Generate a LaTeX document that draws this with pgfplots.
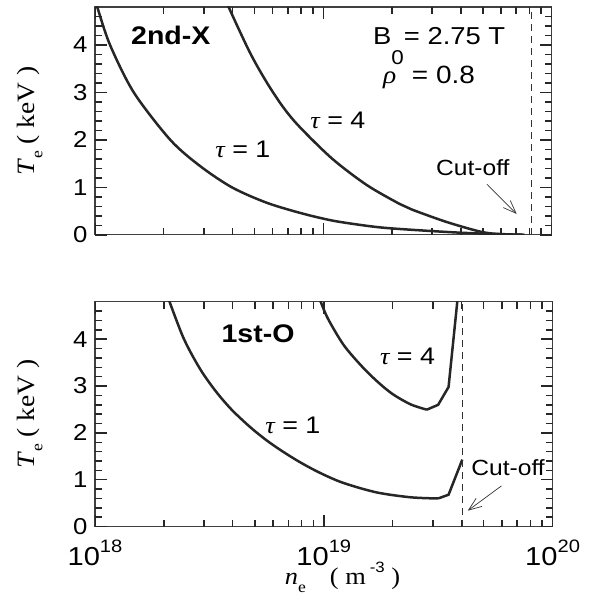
\documentclass[border=0pt]{standalone}
\usepackage{fontspec}
\setmainfont[FakeStretch=1.12]{Liberation Sans}
\newfontfamily\serif[FakeStretch=1.1]{Liberation Serif}
\usepackage{pgfplots}
\pgfplotsset{compat=1.18}
\usetikzlibrary{arrows.meta}

\newcommand{\tx}[1]{\fontsize{#1}{#1}\selectfont}
\newcommand{\tauf}{{\serif\itshape τ}}
\newcommand{\ylab}{\serif\tx{25}\itshape T\/\raisebox{-0.3em}{\upshape\tx{16}e}\upshape\ ( keV )}

\tikzset{
  curve/.style={black!85, line width=2.5pt},
  cut/.style={black!80, line width=1.1pt, dash pattern=on 7pt off 5pt},
  arr/.style={black!80, line width=0.7pt, -{Straight Barb[length=13pt, width=10pt]}},
  tickline/.style={draw=black!85, line width=1.5pt},
}

% tick marks on all four sides of a panel
\newcommand{\boxticks}{%
  \pgfplotsinvokeforeach{1e18,1e19,1e20}{%
    \draw[tickline] (axis cs:##1,0) -- ++(0pt,12pt);
    \draw[tickline] (axis cs:##1,4.8) -- ++(0pt,-12pt);}
  \pgfplotsinvokeforeach{2e18,3e18,4e18,5e18,6e18,7e18,8e18,9e18,2e19,3e19,4e19,5e19,6e19,7e19,8e19,9e19}{%
    \draw[tickline] (axis cs:##1,0) -- ++(0pt,7pt);
    \draw[tickline] (axis cs:##1,4.8) -- ++(0pt,-7pt);}
  \pgfplotsinvokeforeach{0,1,2,3,4}{%
    \draw[tickline] (axis cs:1e18,##1) -- ++(12pt,0pt);
    \draw[tickline] (axis cs:1e20,##1) -- ++(-12pt,0pt);}
  \pgfplotsinvokeforeach{0.2,0.4,0.6,0.8,1.2,1.4,1.6,1.8,2.2,2.4,2.6,2.8,3.2,3.4,3.6,3.8,4.2,4.4,4.6}{%
    \draw[tickline] (axis cs:1e18,##1) -- ++(7pt,0pt);
    \draw[tickline] (axis cs:1e20,##1) -- ++(-7pt,0pt);}
}

\begin{document}
\begin{tikzpicture}

% ---- top panel: 2nd harmonic X-mode
\begin{axis}[
  xmode=log, log basis x=10,
  at={(95pt,359pt)}, anchor=south west,
  scale only axis, width=457pt, height=228pt,
  xmin=1e18, xmax=1e20, ymin=0, ymax=4.8,
  xtick={1e18,1e19,1e20}, xticklabels={,,},
  minor xtick={2e18,3e18,4e18,5e18,6e18,7e18,8e18,9e18,2e19,3e19,4e19,5e19,6e19,7e19,8e19,9e19},
  ytick={0,1,2,3,4}, yticklabels={0,1,2,3,4},
  minor ytick={0.2,0.4,...,4.6},
  tick align=inside,
  major tick length=12pt, minor tick length=7pt,
  every tick/.style={black!85, line width=1.5pt},
  axis line style={black!75, line width=1.2pt},
  yticklabel style={font=\tx{23}, xshift=-4pt},
  ylabel style={at={(axis description cs:-0.142,0.5)}, anchor=center},
  ylabel={\ylab},
]
\boxticks
% tau = 1
\addplot[curve, smooth, no markers] coordinates {
  (1.0e18,4.95) (1.023e18,4.8) (1.164e18,4.0) (1.479e18,3.0) (2.138e18,2.0)
  (2.884e18,1.45) (3.98e18,1.0) (5.62e18,0.68) (7.94e18,0.46) (1.096e19,0.30)
  (1.549e19,0.19) (1.995e19,0.135) (3.47e19,0.06) (5.25e19,0.02) (7.6e19,0.0)
};
% tau = 4
\addplot[curve, smooth, no markers] coordinates {
  (3.76e18,4.95) (3.85e18,4.8) (4.76e18,3.85) (5.64e18,3.22) (6.67e18,2.69)
  (7.89e18,2.27) (1.096e19,1.60) (1.549e19,1.05) (2.16e19,0.65) (2.45e19,0.53)
  (3.47e19,0.27) (4.84e19,0.07) (5.75e19,0.02) (7.6e19,0.0)
};
% cut-off
\addplot[cut, no markers] coordinates {(8.15e19,0) (8.15e19,4.8)};

\node[anchor=base west, font=\tx{25.5}\bfseries] at (axis cs:1.39e18,4.0) {2nd-X};
\node[anchor=base west, font=\tx{24.5}] at (axis cs:1.596e19,4.02)
  {B\raisebox{-0.85em}{\tx{20}0}= 2.75 T};
\node[anchor=base west, font=\tx{25}] at (axis cs:1.766e19,3.18)
  {{\serif\itshape ρ}\ \ = 0.8};
\node[anchor=base west, font=\tx{24}] at (axis cs:8.47e18,2.23) {\tauf\ = 4};
\node[anchor=base west, font=\tx{24}] at (axis cs:3.25e18,1.62) {\tauf\ = 1};
\node[anchor=base west, font=\tx{22}] at (axis cs:3.01e19,1.24) {Cut-off};
\draw[arr] (axis cs:5.2e19,1.07) -- (axis cs:7.03e19,0.44);
\end{axis}

% ---- bottom panel: 1st harmonic O-mode
\begin{axis}[
  xmode=log, log basis x=10,
  at={(95pt,67pt)}, anchor=south west,
  scale only axis, width=458pt, height=225pt,
  xmin=1e18, xmax=1e20, ymin=0, ymax=4.8,
  xtick={1e18,1e19,1e20},
  xticklabels={{10\raisebox{0.5em}{\tx{18}18}},{10\raisebox{0.5em}{\tx{18}19}},{10\raisebox{0.5em}{\tx{18}20}}},
  minor xtick={2e18,3e18,4e18,5e18,6e18,7e18,8e18,9e18,2e19,3e19,4e19,5e19,6e19,7e19,8e19,9e19},
  ytick={0,1,2,3,4}, yticklabels={0,1,2,3,4},
  minor ytick={0.2,0.4,...,4.6},
  tick align=inside,
  major tick length=12pt, minor tick length=7pt,
  every tick/.style={black!85, line width=1.5pt},
  axis line style={black!75, line width=1.2pt},
  yticklabel style={font=\tx{23}, xshift=-4pt},
  xticklabel style={font=\tx{26}, yshift=-10pt},
  ylabel style={at={(axis description cs:-0.142,0.5)}, anchor=center},
  ylabel={\ylab},
  xlabel style={at={(axis description cs:0.541,-0.225)}, anchor=center},
  xlabel={\serif\tx{24}\itshape n\/\raisebox{-0.35em}{\upshape\tx{16}e}\upshape\quad( m\,\raisebox{0.5em}{\rmfamily\tx{15}-3}\ )},
]
\boxticks
% tau = 1
\addplot[curve, smooth, no markers] coordinates {
  (2.04e18,5.02) (2.43e18,4.04) (2.88e18,3.365) (3.39e18,2.875) (3.98e18,2.483)
  (4.79e18,2.115) (5.62e18,1.842) (6.61e18,1.604) (7.94e18,1.364) (9.66e18,1.143)
  (1.216e19,0.933) (1.70e19,0.73) (2.40e19,0.625) (3.16e19,0.60)
};
\addplot[curve, no markers] coordinates {(3.16e19,0.60) (3.51e19,0.68) (4.03e19,1.43)};
% tau = 4
\addplot[curve, smooth, no markers] coordinates {
  (9.44e18,4.95) (1.035e19,4.47) (1.216e19,3.89) (1.445e19,3.455) (1.70e19,3.112)
  (1.995e19,2.832) (2.40e19,2.608) (2.82e19,2.496)
};
\addplot[curve, no markers] coordinates {(2.82e19,2.496) (3.16e19,2.60) (3.51e19,2.98) (3.86e19,4.95)};
% cut-off
\addplot[cut, no markers] coordinates {(4.03e19,0) (4.03e19,4.8)};

\node[anchor=base west, font=\tx{25.5}\bfseries] at (axis cs:3.45e18,3.94) {1st-O};
\node[anchor=base west, font=\tx{24}] at (axis cs:1.70e19,3.45) {\tauf\ = 4};
\node[anchor=base west, font=\tx{24}] at (axis cs:5.36e18,1.98) {\tauf\ = 1};
\node[anchor=base west, font=\tx{22}] at (axis cs:4.26e19,1.1) {Cut-off};
\draw[arr] (axis cs:5.98e19,0.87) -- (axis cs:4.26e19,0.34);
\end{axis}

\path (0,0) rectangle (596pt,594pt);
\end{tikzpicture}
\end{document}
